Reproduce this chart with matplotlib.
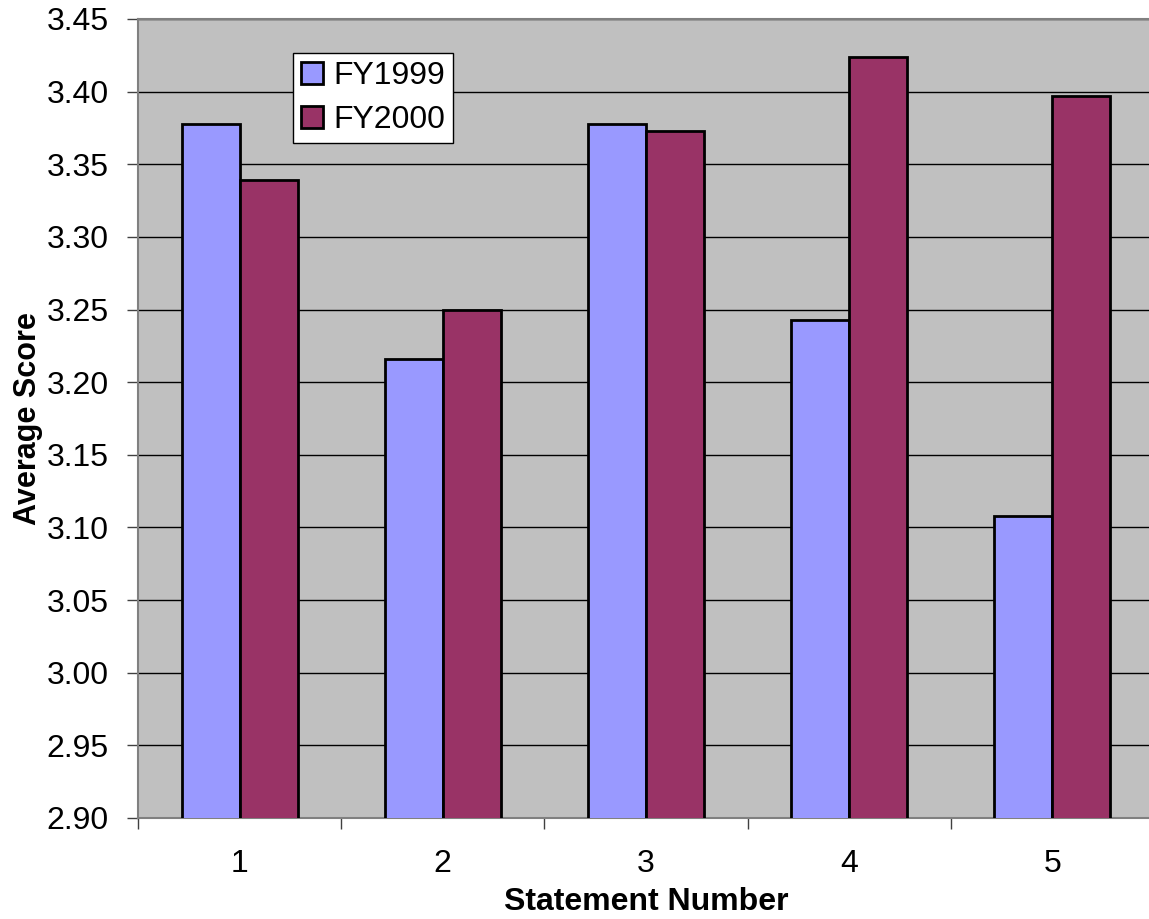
import numpy as np
import matplotlib
matplotlib.use("Agg")
import matplotlib.pyplot as plt
from matplotlib.ticker import FixedLocator

plt.rcParams["font.family"] = ["Liberation Sans", "DejaVu Sans"]

statements = ["1", "2", "3", "4", "5"]
fy1999 = [3.378, 3.216, 3.378, 3.243, 3.108]
fy2000 = [3.339, 3.250, 3.373, 3.424, 3.397]
series_names = ["FY1999", "FY2000"]
yticks = [2.90, 2.95, 3.00, 3.05, 3.10, 3.15, 3.20, 3.25, 3.30, 3.35, 3.40, 3.45]

FS = 23

fig = plt.figure(figsize=(11.49, 9.19), dpi=100)
ax = fig.add_axes([138 / 1149, 1 - 818 / 919, 1016 / 1149, 799 / 919])
ax.set_facecolor("#C0C0C0")

x = np.arange(len(statements))
w = 1 / 3.5  # excel gap width 150%
ax.bar(x - w / 2, fy1999, w, color="#9999FF", edgecolor="black",
       linewidth=2.0, label=series_names[0], zorder=3)
ax.bar(x + w / 2, fy2000, w, color="#993366", edgecolor="black",
       linewidth=2.0, label=series_names[1], zorder=3)

ax.set_ylim(2.90, 3.45)
ax.set_xlim(-0.5, len(statements) - 0.5)
ax.set_yticks(yticks)
ax.set_yticklabels([f"{v:.2f}" for v in yticks])
ax.yaxis.grid(True, color="black", linewidth=1.0, zorder=1)
ax.set_axisbelow(True)

ax.set_xticks(x)
ax.set_xticklabels(statements)
ax.xaxis.set_minor_locator(FixedLocator(np.arange(-0.5, len(statements), 1)))
ax.tick_params(axis="x", which="major", length=0, pad=22, labelsize=FS)
ax.tick_params(axis="x", which="minor", length=8, width=1, color="#404040")
ax.tick_params(axis="y", length=8, width=1, color="#404040", labelsize=FS, pad=13)

for s in ["left", "bottom", "top"]:
    ax.spines[s].set_color("#808080")
    ax.spines[s].set_linewidth(1.5)
ax.spines["right"].set_visible(False)

ax.set_xlabel("Statement Number", fontsize=FS, fontweight="bold", labelpad=6)
ax.set_ylabel("Average Score", fontsize=FS - 1, fontweight="bold", labelpad=3)

leg = ax.legend(loc="upper left", bbox_to_anchor=(155 / 1016, 1 - 34 / 799), fontsize=FS,
                frameon=True, fancybox=False, framealpha=1, edgecolor="black",
                handlelength=0.7, handleheight=0.7, handletextpad=0.3,
                borderpad=0.25, labelspacing=0.45, borderaxespad=0)
leg.get_frame().set_linewidth(1.0)
for h in leg.legend_handles:
    h.set_linewidth(2.0)

fig.savefig("out.png", dpi=100)
